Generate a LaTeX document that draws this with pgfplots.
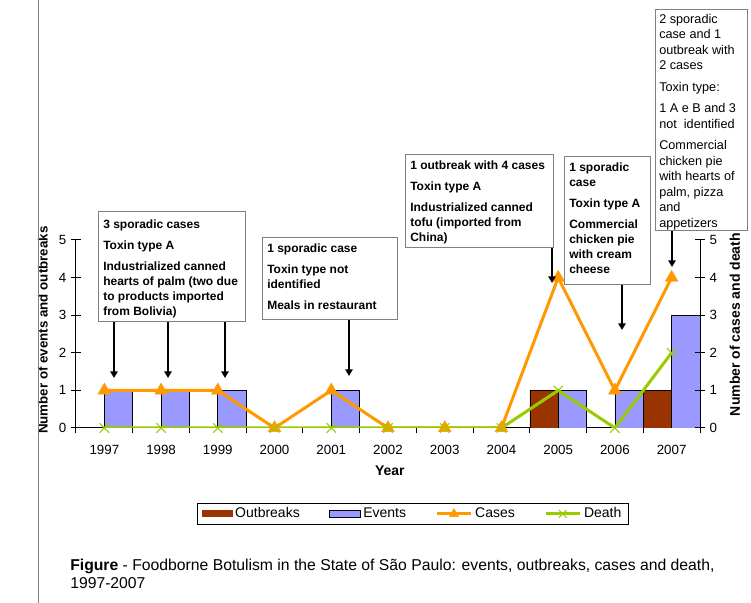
\documentclass[border=0pt]{standalone}
\usepackage{pgfplots}
\pgfplotsset{compat=1.18}
\usetikzlibrary{arrows.meta}
\usepackage{fontspec}
\setmainfont{Liberation Sans}
\definecolor{outb}{HTML}{993300}
\definecolor{evt}{HTML}{9999FF}
\definecolor{casec}{HTML}{FF9900}
\definecolor{deathc}{HTML}{99CC00}
\definecolor{boxc}{HTML}{808080}
\pgfplotsset{
  rectlegend/.style={legend image code/.code={\path[##1] (0pt,-2.6pt) rectangle (23pt,2.6pt);}},
  mylinelegend/.style={legend image code/.code={\draw[mark repeat=2,mark phase=2,##1,mark size=4pt] plot coordinates {(0cm,0cm)(0.45cm,0cm)(0.9cm,0cm)};}},
}

\begin{document}
\begin{tikzpicture}
\useasboundingbox (0,0) rectangle (563.25pt,452.25pt);
\fill[white] (0,0) rectangle (563.25pt,452.25pt);
\pgfplotsset{every axis/.append style={
  scale only axis, width=468pt, height=141pt,
  xmin=-0.5, xmax=10.5, ymin=0, ymax=5,
  at={(57pt,131.25pt)}, anchor=south west,
  font=\fontsize{10}{12}\selectfont,
  /pgf/number format/assume math mode=true,
  axis line style={black, line width=0.75pt},
  every tick/.style={black, line width=0.75pt},
  ytick={0,...,5}, ytick align=center,
  major tick length=7.5pt, minor tick length=4pt,
}}
% bars + left axis
\begin{axis}[
  axis y line*=left, axis x line*=bottom,
  xtick={0,...,10},
  xticklabels={1997,1998,1999,2000,2001,2002,2003,2004,2005,2006,2007},
  major x tick style={draw=none},
  minor xtick={-0.5,0.5,...,10.5},
  xtick align=outside,
  xticklabel style={yshift=-2pt},
  ylabel={\fontsize{10}{12}\selectfont\bfseries Number of events and outbreaks},
  ylabel style={at={(axis description cs:-0.053,0.52)}, anchor=center},
  xlabel={\fontsize{10.5}{12}\selectfont\bfseries Year},
  xlabel style={at={(axis description cs:0.503,-0.229)}, anchor=center},
]
\addplot[ybar, bar width=0.5, bar shift=-0.25, fill=outb, draw=black, line width=0.4pt]
  coordinates {(8,1) (10,1)};
\addplot[ybar, bar width=0.5, bar shift=0.25, fill=evt, draw=black, line width=0.6pt]
  coordinates {(0,1) (1,1) (2,1) (4,1) (8,1) (9,1) (10,3)};
\end{axis}
% lines + right axis
\begin{axis}[
  axis y line*=right, axis x line=none,
  ylabel={\fontsize{10.5}{12}\selectfont\bfseries Number of cases and death},
  ylabel style={at={(axis description cs:1.056,0.55)}, anchor=center, rotate=0},
  legend columns=4,
  legend style={at={(axis description cs:0.54,-0.457)}, anchor=center,
    draw=black, line width=0.75pt, font=\fontsize{10.5}{12}\selectfont,
    inner xsep=3pt, inner ysep=1.5pt,
    /tikz/every even column/.append style={column sep=20pt}},
]
\addlegendimage{fill=outb, draw=none, rectlegend}
\addlegendentry{Outbreaks}
\addlegendimage{fill=evt, draw=black, line width=0.6pt, rectlegend}
\addlegendentry{Events}
\addplot[casec, line width=2.25pt, mark=triangle*, mark size=5.5pt,
  mark options={solid, line width=0.3pt}, mylinelegend]
  coordinates {(0,1) (1,1) (2,1) (3,0) (4,1) (5,0) (6,0) (7,0) (8,4) (9,1) (10,4)};
\addlegendentry{Cases}
\addplot[deathc, line width=2.25pt, mark=x, mark size=5pt,
  mark options={solid, line width=0.8pt}, mylinelegend]
  coordinates {(0,0) (1,0) (2,0) (3,0) (4,0) (5,0) (6,0) (7,0) (8,1) (9,0) (10,2)};
\addlegendentry{Death}
\end{axis}
% annotations in pixel coordinates
\begin{scope}[x=0.75pt, y=-0.75pt, yshift=452.25pt]
  \draw[boxc, line width=0.75pt] (38,0) -- (38,603);
  \begin{scope}[every node/.style={anchor=north west, align=left, inner sep=0pt,
      font=\fontsize{9}{11.25}\selectfont\bfseries}]
    \draw[boxc, line width=0.75pt, fill=white] (98,212) rectangle (245,322);
    \node at (103,220) {3 sporadic cases\\[4.5pt]Toxin type A\\[4.5pt]Industrialized canned\\hearts of palm (two due\\to products imported\\from Bolivia)};
    \draw[boxc, line width=0.75pt, fill=white] (262,238) rectangle (397,320);
    \node at (267,244) {1 sporadic case\\[4.5pt]Toxin type not\\identified\\[4.5pt]Meals in restaurant};
    \draw[boxc, line width=0.75pt, fill=white] (405,155) rectangle (553,248);
    \node at (410,161) {1 outbreak with 4 cases\\[4.5pt]Toxin type A\\[4.5pt]Industrialized canned\\tofu (imported from\\China)};
    \draw[boxc, line width=0.75pt, fill=white] (564,157) rectangle (650,285);
    \node at (569,163) {1 sporadic\\case\\[4.5pt]Toxin type A\\[4.5pt]Commercial\\chicken pie\\with cream\\cheese};
    \draw[boxc, line width=0.75pt, fill=white] (655,10) rectangle (747,231);
    \node[font=\fontsize{9.5}{11.6}\selectfont] at (659,14) {2 sporadic\\case and 1\\outbreak with\\2 cases\\[4.5pt]Toxin type:\\[4.5pt]1 A e B and 3\\not\ \ identified\\[4.5pt]Commercial\\chicken pie\\with hearts of\\palm, pizza\\and\\appetizers};
  \end{scope}
  \begin{scope}[line width=1.5pt, -{Triangle[length=5pt,width=5.5pt]}]
    \draw (114,322) -- (114,378);
    \draw (168,322) -- (168,378);
    \draw (225,322) -- (225,378);
    \draw (349,320) -- (349,376);
    \draw (552,248) -- (552,283);
    \draw (622,285) -- (622,330);
    \draw (672,231) -- (672,267);
  \end{scope}
  \node[anchor=north west, align=left, inner sep=0pt, font=\fontsize{11.8}{13.6}\selectfont] at (70,559)
    {\textbf{Figure} - Foodborne Botulism in the State of S\~ao Paulo: events, outbreaks, cases and death,\\1997-2007};
\end{scope}
\end{tikzpicture}
\end{document}
